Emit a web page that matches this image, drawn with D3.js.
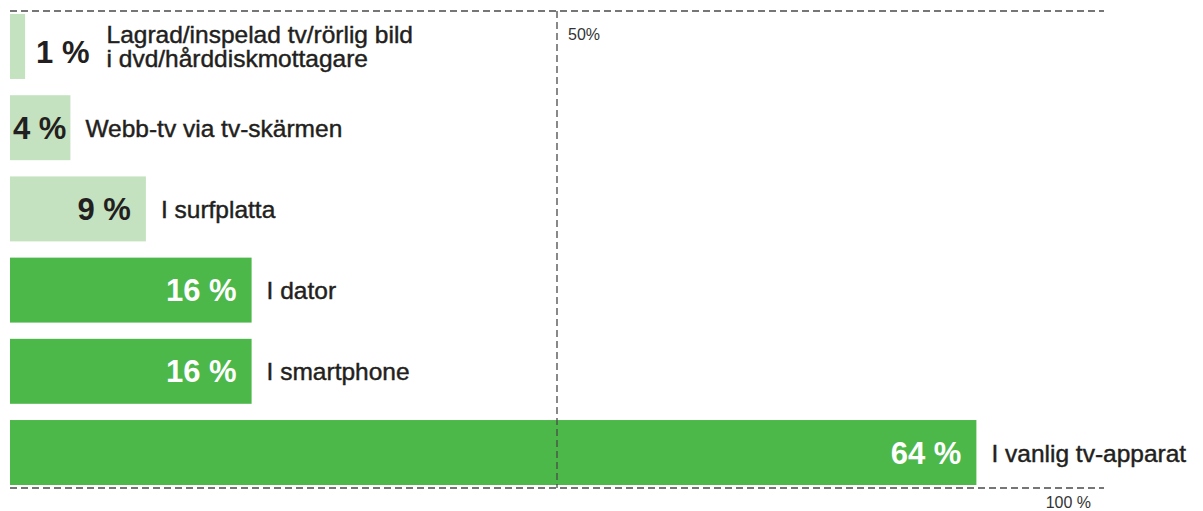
<!DOCTYPE html>
<html>
<head>
<meta charset="utf-8">
<script src="https://cdn.jsdelivr.net/npm/d3@7"></script>
<style>
    body { margin: 0; background: #ffffff; }
    svg { display: block; font-family: "Liberation Sans", Arial, sans-serif; }
    .value-label { font-weight: bold; font-size: 31px; }
    .cat-label { font-size: 24.5px; fill: #231f20; stroke: #231f20; stroke-width: 0.45px; }
    .ref-label { font-size: 16px; fill: #333333; }
</style>
</head>
<body>
<svg id="chart"></svg>
<script>
const width = 1203, height = 511;

// data
const categories = [
    ["Lagrad/inspelad tv/rörlig bild", "i dvd/hårddiskmottagare"],
    ["Webb-tv via tv-skärmen"],
    ["I surfplatta"],
    ["I dator"],
    ["I smartphone"],
    ["I vanlig tv-apparat"]
];
const values = [1, 4, 9, 16, 16, 64];
const highlighted = [false, false, false, true, true, true];
const refTicks = [50];
const refTickLabels = ["50%"];
const refMaxLabel = "100 %";

const colors = { light: "#c5e2c0", dark: "#4cb84a", text: "#231f20", line: "#4a4a4a" };

const svg = d3.select("#chart").attr("width", width).attr("height", height);

const x = d3.scaleLinear().domain([0, 100]).range([10, 1520]);
// the dashed frame has its own 0-100 scale in the original
const xRef = d3.scaleLinear().domain([0, 100]).range([10, 1104]);
const y = d3.scaleBand()
    .domain(d3.range(values.length))
    .range([14, 485])
    .paddingInner(0.2)
    .paddingOuter(0);

const rows = values.map((v, i) => ({ i, v, label: categories[i], hi: highlighted[i] }));

svg.append("g")
    .selectAll("rect")
    .data(rows)
    .enter()
    .append("rect")
    .attr("x", x(0))
    .attr("y", d => y(d.i))
    .attr("width", d => x(d.v) - x(0))
    .attr("height", y.bandwidth())
    .attr("fill", d => d.hi ? colors.dark : colors.light);

const labels = svg.append("g");
rows.forEach(d => {
    const barEnd = x(d.v);
    const cy = y(d.i) + y.bandwidth() / 2;
    const vt = labels.append("text")
        .attr("class", "value-label")
        .attr("y", cy + 11)
        .attr("fill", d.hi ? "#ffffff" : colors.text)
        .text(`${d.v} %`);
    const w = vt.node().getComputedTextLength();
    let valueRight;
    if (barEnd - 15 - w >= x(0)) {
        vt.attr("x", barEnd - 15).attr("text-anchor", "end");
        valueRight = barEnd - 15;
    } else if (barEnd - 4 - w >= x(0)) {
        vt.attr("x", barEnd - 4).attr("text-anchor", "end");
        valueRight = barEnd - 4;
    } else {
        vt.attr("x", barEnd + 11).attr("y", cy + 17);
        valueRight = barEnd + 11 + w;
    }
    const lx = Math.max(barEnd + 15, valueRight + 17);
    const lines = d.label;
    const t = labels.append("text")
        .attr("class", "cat-label")
        .attr("x", lx)
        .attr("y", cy + 9 - (lines.length - 1) * 12);
    lines.forEach((s, k) => {
        t.append("tspan")
            .attr("x", lx)
            .attr("dy", k === 0 ? 0 : 24)
            .text(s);
    });
});

// dashed reference frame, drawn over the bars
const frame = svg.append("g")
    .attr("stroke", colors.line)
    .attr("stroke-width", 1.3)
    .attr("stroke-dasharray", "7,4")
    .attr("fill", "none");

frame.append("line")
    .attr("x1", xRef(0)).attr("x2", xRef(100))
    .attr("y1", 11).attr("y2", 11);
frame.append("line")
    .attr("x1", xRef(0)).attr("x2", xRef(100))
    .attr("y1", 488).attr("y2", 488);
frame.selectAll(".vline")
    .data(refTicks)
    .enter()
    .append("line")
    .attr("x1", d => xRef(d)).attr("x2", d => xRef(d))
    .attr("y1", 11).attr("y2", 488);

svg.selectAll(".ref-tick")
    .data(refTicks)
    .enter()
    .append("text")
    .attr("class", "ref-label")
    .attr("x", d => xRef(d) + 11)
    .attr("y", 40)
    .text((d, i) => refTickLabels[i]);

svg.append("text")
    .attr("class", "ref-label")
    .attr("x", xRef(100) - 13)
    .attr("y", 508)
    .attr("text-anchor", "end")
    .text(refMaxLabel);
</script>
</body>
</html>
